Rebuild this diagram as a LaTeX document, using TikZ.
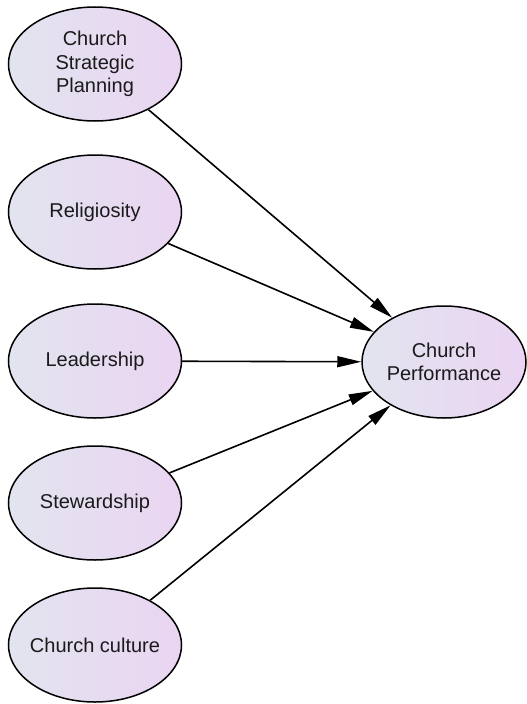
\documentclass[tikz,border=0pt]{standalone}
\usepackage{fontspec}
\setmainfont{Liberation Sans}
\usetikzlibrary{arrows.meta,shapes.geometric}
\definecolor{fillL}{HTML}{E2E4EF}
\definecolor{fillR}{HTML}{EAD5F2}
\definecolor{ink}{HTML}{1A1A1A}
\begin{document}
\begin{tikzpicture}[x=1pt,y=-1pt,
  factor/.style={ellipse, draw=black, line width=1.5pt, left color=fillL, right color=fillR,
    minimum width=173pt, minimum height=114pt, inner sep=0pt, align=center,
    text=ink, font=\fontsize{20}{23.5}\selectfont},
  link/.style={line width=1.6pt, -{Triangle[length=24pt,width=11pt]}}]
\useasboundingbox (0,0) rectangle (527,704);
\node[factor] (plan) at (95,64) {Church\\Strategic\\Planning};
\node[factor] (rel) at (95,212) {Religiosity};
\node[factor] (lead) at (95,361) {Leadership};
\node[factor] (stew) at (95,503) {\makebox[0pt]{Stewardship}};
\node[factor] (cult) at (95,645) {\makebox[0pt]{Church culture}};
\node[factor, minimum width=164pt, minimum height=112pt] (perf) at (444,362) {Church\\\makebox[0pt]{Performance}};
\foreach \src in {plan,rel,lead,stew,cult}
  \draw[link] (\src) -- (perf);
\end{tikzpicture}
\end{document}
